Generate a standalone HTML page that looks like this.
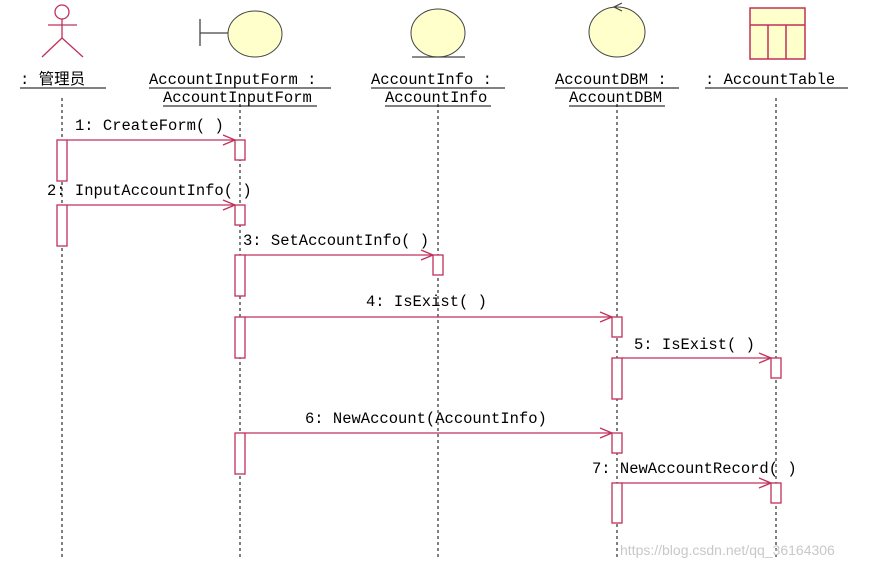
<!DOCTYPE html>
<html><head><meta charset="utf-8"><style>
html,body{margin:0;padding:0;background:#fff;}
svg{display:block;}
text{font-family:"Liberation Mono","Noto Sans CJK SC",monospace;font-size:15.5px;fill:#000;}
</style></head><body>
<svg width="869" height="567" viewBox="0 0 869 567" xmlns="http://www.w3.org/2000/svg">
<!-- actor -->
<g stroke="#c0305a" stroke-width="1.3" fill="none">
<circle cx="62" cy="12" r="7"/>
<line x1="62" y1="19" x2="62" y2="38"/>
<line x1="48" y1="25" x2="77" y2="25"/>
<line x1="62" y1="38" x2="42" y2="57"/>
<line x1="62" y1="38" x2="83" y2="57"/>
</g>
<!-- boundary -->
<line x1="200" y1="19" x2="200" y2="46" stroke="#444" stroke-width="1.3"/>
<line x1="200" y1="33" x2="228" y2="33" stroke="#444" stroke-width="1.3"/>
<ellipse cx="255" cy="34" rx="27" ry="23" fill="#ffffcc" stroke="#444" stroke-width="1"/>
<!-- entity -->
<ellipse cx="438" cy="33" rx="27" ry="24" fill="#ffffcc" stroke="#444" stroke-width="1"/>
<line x1="412" y1="57" x2="465" y2="57" stroke="#444" stroke-width="1.3"/>
<!-- control -->
<ellipse cx="617" cy="32" rx="28" ry="25" fill="#ffffcc" stroke="#444" stroke-width="1"/>
<polyline points="622,3 614,7 622,11" fill="none" stroke="#444" stroke-width="1.2"/>
<!-- table -->
<g stroke="#c0305a" stroke-width="1.5" fill="#ffffcc">
<rect x="750" y="8" width="55" height="51"/>
<line x1="750" y1="25" x2="805" y2="25"/>
<line x1="768" y1="25" x2="768" y2="59"/>
<line x1="786" y1="25" x2="786" y2="59"/>
</g>
<!-- labels -->
<text x="20" y="84">: 管理员</text>
<line x1="20" y1="88" x2="106" y2="88" stroke="#000"/>
<text x="149" y="84">AccountInputForm :</text>
<line x1="149" y1="88" x2="331" y2="88" stroke="#000"/>
<text x="163" y="102">AccountInputForm</text>
<line x1="163" y1="106" x2="317" y2="106" stroke="#000"/>
<text x="371" y="84">AccountInfo :</text>
<line x1="371" y1="88" x2="505" y2="88" stroke="#000"/>
<text x="385" y="102">AccountInfo</text>
<line x1="385" y1="106" x2="491" y2="106" stroke="#000"/>
<text x="555" y="84">AccountDBM :</text>
<line x1="555" y1="88" x2="679" y2="88" stroke="#000"/>
<text x="569" y="102">AccountDBM</text>
<line x1="569" y1="106" x2="665" y2="106" stroke="#000"/>
<text x="705" y="84">: AccountTable</text>
<line x1="705" y1="88" x2="848" y2="88" stroke="#000"/>
<!-- lifelines -->
<g stroke="#000" stroke-width="1" stroke-dasharray="3,3">
<line x1="62" y1="98" x2="62" y2="560"/>
<line x1="240" y1="104" x2="240" y2="560"/>
<line x1="438" y1="104" x2="438" y2="560"/>
<line x1="617" y1="104" x2="617" y2="560"/>
<line x1="776" y1="98" x2="776" y2="560"/>
</g>
<!-- activations -->
<g stroke="#c0305a" stroke-width="1.3" fill="#fff">
<rect x="57" y="140" width="10" height="41"/>
<rect x="57" y="205" width="10" height="41"/>
<rect x="235" y="140" width="10" height="20"/>
<rect x="235" y="205" width="10" height="20"/>
<rect x="235" y="255" width="10" height="41"/>
<rect x="235" y="317" width="10" height="41"/>
<rect x="235" y="433" width="10" height="41"/>
<rect x="433" y="255" width="10" height="20"/>
<rect x="612" y="317" width="10" height="20"/>
<rect x="612" y="358" width="10" height="41"/>
<rect x="612" y="433" width="10" height="20"/>
<rect x="612" y="483" width="10" height="40"/>
<rect x="771" y="358" width="10" height="20"/>
<rect x="771" y="483" width="10" height="20"/>
</g>
<!-- messages -->
<g stroke="#c0305a" stroke-width="1.3" fill="none">
<line x1="67" y1="140" x2="235" y2="140"/><polyline points="223,135 235,140 223,145"/>
<line x1="67" y1="205" x2="235" y2="205"/><polyline points="223,200 235,205 223,210"/>
<line x1="245" y1="255" x2="433" y2="255"/><polyline points="421,250 433,255 421,260"/>
<line x1="245" y1="317" x2="612" y2="317"/><polyline points="600,312 612,317 600,322"/>
<line x1="622" y1="358" x2="771" y2="358"/><polyline points="759,353 771,358 759,363"/>
<line x1="245" y1="433" x2="612" y2="433"/><polyline points="600,428 612,433 600,438"/>
<line x1="622" y1="483" x2="771" y2="483"/><polyline points="759,478 771,483 759,488"/>
</g>
<text x="75" y="130">1: CreateForm( )</text>
<text x="47" y="195">2: InputAccountInfo( )</text>
<text x="243" y="245">3: SetAccountInfo( )</text>
<text x="366" y="306">4: IsExist( )</text>
<text x="634" y="349">5: IsExist( )</text>
<text x="305" y="423">6: NewAccount(AccountInfo)</text>
<text x="592" y="473">7: NewAccountRecord( )</text>
<text x="620" y="555" style="font-family:'Liberation Sans',sans-serif;font-size:14px;fill:#c8c8c8">https://blog.csdn.net/qq_36164306</text>
</svg>
</body></html>
